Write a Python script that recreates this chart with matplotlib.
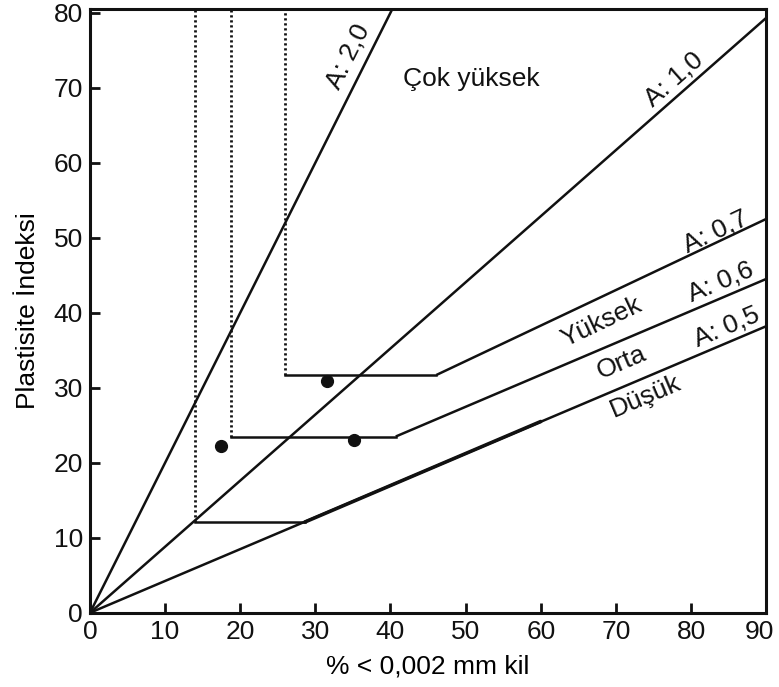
import matplotlib.pyplot as plt
import matplotlib.transforms as mtransforms

# --- Daten ---
# Aktivitätslinien: (x0, y0, x1, y1)
A20_LINE = [0, 0, 41, 82]
A10_LINE = [0, 0, 90, 79.3]
A05_LINE = [0, 0, 90, 38.2]
A07_LINE = [46.1, 31.7, 90, 52.5]
A06_LINE = [40.7, 23.5, 90, 44.5]
A05_BOLD = [28.6, 12.1, 60, 25.5]

# Grenzen (senkrecht gepunktet + waagerecht)
GRENZ_X = [14.0, 18.8, 25.9]
GRENZ_Y = [12.05, 23.5, 31.7]
GRENZ_X_END = [28.6, 40.7, 46.1]

# Messpunkte
PUNKT_X = [17.5, 31.5, 35.1]
PUNKT_Y = [22.2, 30.9, 23.0]

# Beschriftungen: text, x, y, rotation
LABELS = [
    ("A: 2,0", 34.4, 74.1, 63.4),
    ("Çok yüksek", 50.7, 71.1, 0),
    ("A: 1,0", 77.7, 71.1, 41.4),
    ("A: 0,7", 83.3, 50.8, 25.4),
    ("Yüksek", 68.1, 38.7, 25.4),
    ("A: 0,6", 84.0, 44.1, 23.0),
    ("Orta", 70.8, 33.3, 23.0),
    ("A: 0,5", 84.7, 38.1, 23.0),
    ("Düşük", 74.0, 28.8, 23.0),
]

X_TICKS = [0, 10, 20, 30, 40, 50, 60, 70, 80, 90]
Y_TICKS = [0, 10, 20, 30, 40, 50, 60, 70, 80]

plt.rcParams['font.family'] = ['Liberation Sans', 'DejaVu Sans']
FS = 19

fig = plt.figure(figsize=(7.79, 6.87), dpi=100)
ax = fig.add_axes([0.1155, 0.108, 0.868, 0.879])

LW = 1.8
for seg in (A20_LINE, A10_LINE, A05_LINE, A07_LINE, A06_LINE):
    ax.plot([seg[0], seg[2]], [seg[1], seg[3]], color="#111111", lw=LW,
            solid_capstyle="butt")
# leicht verdickter Abschnitt der A: 0,5 Linie
ax.plot([A05_BOLD[0], A05_BOLD[2]], [A05_BOLD[1], A05_BOLD[3]],
        color="#111111", lw=2.6, solid_capstyle="round")

top = 80.5
for gx, gy, gx_end in zip(GRENZ_X, GRENZ_Y, GRENZ_X_END):
    ax.plot([gx, gx], [gy, top], color="#111111", lw=2.0, linestyle=(0, (0.8, 1.0)))
    ax.plot([gx, gx_end], [gy, gy], color="#111111", lw=LW)

ax.plot(PUNKT_X, PUNKT_Y, "o", color="#111111", markersize=8.5)

for txt, x, y, rot in LABELS:
    ax.text(x, y, txt, rotation=rot, rotation_mode="anchor",
            ha="center", va="center", fontsize=FS, color="#111111")

ax.set_xlim(0, 90)
ax.set_ylim(0, top)
ax.set_xticks(X_TICKS)
ax.set_yticks(Y_TICKS)
ax.tick_params(direction="in", length=7, width=2, labelsize=FS, pad=5,
               colors="#111111", top=False, right=False)
for sp in ax.spines.values():
    sp.set_linewidth(2.2)
    sp.set_color("#111111")

# letzte x-Beschriftung etwas nach links, damit "90" nicht abgeschnitten wird
shift = mtransforms.ScaledTranslation(-7 / 100, 0, fig.dpi_scale_trans)
last = ax.get_xticklabels()[-1]
last.set_transform(last.get_transform() + shift)

ax.set_xlabel("% < 0,002 mm kil", fontsize=FS, labelpad=8)
ax.set_ylabel("Plastisite İndeksi", fontsize=FS, labelpad=10)

fig.savefig("out.png", dpi=100)
